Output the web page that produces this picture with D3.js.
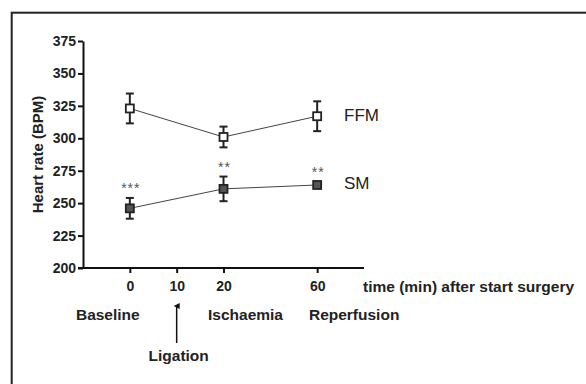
<!DOCTYPE html>
<html>
<head>
<meta charset="utf-8">
<script src="https://cdn.jsdelivr.net/npm/d3@7"></script>
<style>
  body { margin: 0; background: #fff; }
  svg { display: block; font-family: "Liberation Sans", Arial, Helvetica, sans-serif; }
</style>
</head>
<body>
<svg id="chart" width="586" height="384"></svg>
<script>
// time points (min after start surgery) and their slot on the axis
const timeTicks = [0, 10, 20, 60];
const timeSlots = [1, 2, 3, 5];

// measured time points
const times = [0, 20, 60];
const ffmMean = [323, 301, 317];
const ffmErr = [11.5, 8, 11.5];
const smMean = [246, 261, 264];
const smErr = [8, 9.5, 2];
const smStars = ["***", "**", "**"];

const yTicks = [200, 225, 250, 275, 300, 325, 350, 375];
const phases = ["Baseline", "Ischaemia", "Reperfusion"];

const svg = d3.select("#chart");

// outer frame, running off the right and bottom edge
svg.append("rect")
  .attr("x", 11.7).attr("y", 12.7)
  .attr("width", 600).attr("height", 400)
  .attr("fill", "none").attr("stroke", "#222").attr("stroke-width", 2);

const slotOf = t => timeSlots[timeTicks.indexOf(t)];
const x = d3.scaleLinear().domain([0, 6]).range([83, 364]);
const y = d3.scaleLinear().domain([200, 375]).range([268, 41]);

// y axis
const gy = svg.append("g").attr("transform", `translate(${x(0)},0)`)
  .call(d3.axisLeft(y).tickValues(yTicks).tickSize(5).tickSizeOuter(0).tickPadding(2));
gy.select(".domain").attr("stroke", "#111").attr("stroke-width", 2);
gy.selectAll(".tick line").attr("stroke", "#111").attr("stroke-width", 2);
gy.selectAll("text").attr("fill", "#222").style("font-size", "14px").style("font-weight", "bold");

// x axis (time)
const gx = svg.append("g").attr("transform", `translate(0,${y(200)})`)
  .call(d3.axisBottom(x).tickValues(timeSlots).tickFormat((d, i) => timeTicks[i])
    .tickSize(5).tickSizeOuter(0).tickPadding(8));
gx.select(".domain").attr("d", `M${x(0) - 5},0H${x(6)}`).attr("stroke", "#111").attr("stroke-width", 2);
gx.selectAll(".tick line").attr("stroke", "#111").attr("stroke-width", 2);
gx.selectAll("text").attr("fill", "#222").style("font-size", "14px").style("font-weight", "bold");

// axis titles
svg.append("text")
  .attr("transform", `translate(39,${(y(200) + y(375)) / 2}) rotate(-90)`)
  .attr("text-anchor", "middle").attr("dominant-baseline", "middle")
  .attr("fill", "#222").style("font-size", "15px").style("font-weight", "bold")
  .text("Heart rate (BPM)");

svg.append("text")
  .attr("x", 363).attr("y", y(200) + 24)
  .attr("fill", "#222").style("font-size", "15.5px").style("font-weight", "bold")
  .text("time (min) after start surgery");

// phase labels under the time axis
const phaseX = [x(slotOf(0)) - 22, x(slotOf(20)) + 22, x(slotOf(60)) + 37];
svg.selectAll(".phase")
  .data(phases)
  .join("text")
  .attr("class", "phase")
  .attr("x", (d, i) => phaseX[i])
  .attr("y", y(200) + 52)
  .attr("text-anchor", "middle")
  .attr("fill", "#222").style("font-size", "15.5px").style("font-weight", "bold")
  .text(d => d);

// ligation arrow at 10 min
const ax = x(slotOf(10));
svg.append("defs").append("marker")
  .attr("id", "arrow").attr("viewBox", "0 0 10 10")
  .attr("refX", 5).attr("refY", 5)
  .attr("markerWidth", 6).attr("markerHeight", 7)
  .attr("markerUnits", "userSpaceOnUse")
  .attr("orient", "auto")
  .append("path").attr("d", "M0,10 L5,0 L10,10 Z").attr("fill", "#111");
svg.append("line")
  .attr("x1", ax).attr("x2", ax)
  .attr("y1", y(200) + 75).attr("y2", y(200) + 38)
  .attr("stroke", "#111").attr("stroke-width", 1.5)
  .attr("marker-end", "url(#arrow)");
svg.append("text")
  .attr("x", ax + 2).attr("y", y(200) + 93)
  .attr("text-anchor", "middle")
  .attr("fill", "#222").style("font-size", "15.5px").style("font-weight", "bold")
  .text("Ligation");

// draw one series: connecting line, error bars, square markers
function drawSeries(means, errs, fill) {
  const pts = times.map((t, i) => ({ t, m: means[i], e: errs[i] }));
  const g = svg.append("g");
  g.append("path")
    .datum(pts)
    .attr("fill", "none").attr("stroke", "#444").attr("stroke-width", 1)
    .attr("d", d3.line().x(d => x(slotOf(d.t))).y(d => y(d.m)));

  const eb = g.selectAll(".err").data(pts).join("g").attr("class", "err")
    .attr("stroke", "#222").attr("stroke-width", 2);
  eb.append("line")
    .attr("x1", d => x(slotOf(d.t))).attr("x2", d => x(slotOf(d.t)))
    .attr("y1", d => y(d.m - d.e)).attr("y2", d => y(d.m + d.e));
  eb.append("line")
    .attr("x1", d => x(slotOf(d.t)) - 4).attr("x2", d => x(slotOf(d.t)) + 4)
    .attr("y1", d => y(d.m + d.e)).attr("y2", d => y(d.m + d.e));
  eb.append("line")
    .attr("x1", d => x(slotOf(d.t)) - 4).attr("x2", d => x(slotOf(d.t)) + 4)
    .attr("y1", d => y(d.m - d.e)).attr("y2", d => y(d.m - d.e));

  g.selectAll(".pt").data(pts).join("rect").attr("class", "pt")
    .attr("x", d => x(slotOf(d.t)) - 4).attr("y", d => y(d.m) - 4)
    .attr("width", 8).attr("height", 8)
    .attr("fill", fill).attr("stroke", "#222").attr("stroke-width", 1.8);
  return pts;
}

const ffmPts = drawSeries(ffmMean, ffmErr, "#fff");
const smPts = drawSeries(smMean, smErr, "#555");

// significance stars above SM points
svg.selectAll(".star")
  .data(smPts)
  .join("text")
  .attr("class", "star")
  .attr("x", d => x(slotOf(d.t)) + 1)
  .attr("y", (d, i) => y(d.m + d.e) - 5)
  .attr("text-anchor", "middle")
  .attr("fill", "#555").style("font-size", "14px").style("letter-spacing", "1px")
  .text((d, i) => smStars[i]);

// series labels at the right
svg.append("text")
  .attr("x", 344).attr("y", y(ffmMean[2])).attr("dominant-baseline", "middle")
  .attr("fill", "#222").style("font-size", "17px").text("FFM");
svg.append("text")
  .attr("x", 344).attr("y", y(smMean[2])).attr("dominant-baseline", "middle")
  .attr("fill", "#222").style("font-size", "17px").text("SM");
</script>
</body>
</html>
